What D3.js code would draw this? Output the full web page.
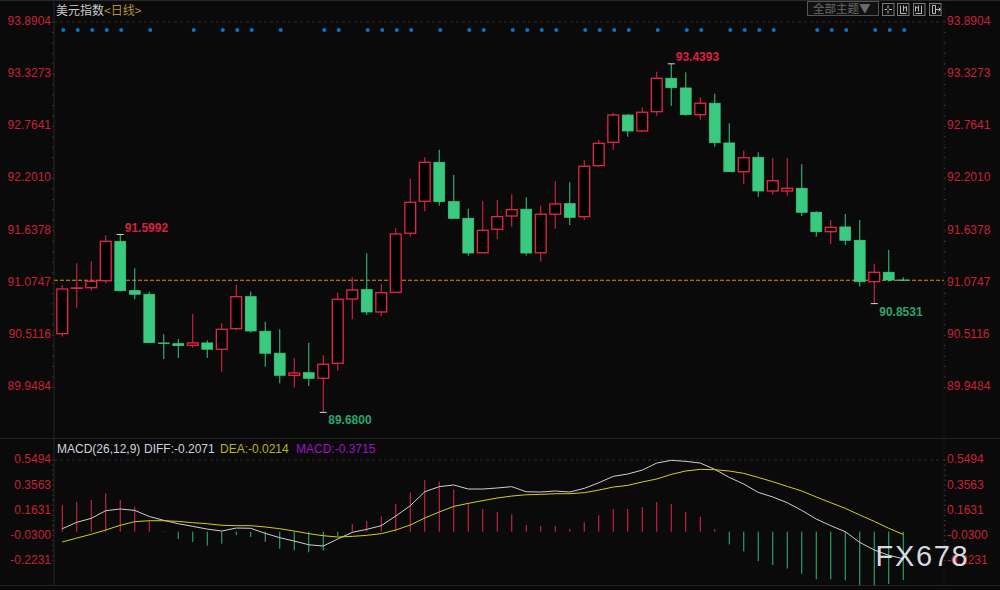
<!DOCTYPE html>
<html>
<head>
<meta charset="utf-8">
<title>美元指数</title>
<script src="https://cdn.jsdelivr.net/npm/d3@7"></script>
<style>
    html, body { margin: 0; padding: 0; background: #0a0a0a; overflow: hidden; }
    text { font-family: "Liberation Sans", Arial, sans-serif; }
    .cjk { font-family: "Noto Sans CJK SC", sans-serif; }
</style>
</head>
<body>
<div id="chart"></div>
<script>
"use strict"

// daily candles
let opens = [90.529,91.019,91.025,91.100,91.525,90.993,90.954,90.429,90.421,90.404,90.429,90.361,90.583,90.928,90.555,90.318,90.080,90.108,90.048,90.210,
    90.903,91.004,90.763,90.975,91.612,91.957,92.377,91.953,91.773,91.402,91.655,91.798,91.871,91.402,91.817,91.931,91.791,92.341,92.593,92.887,
    92.715,92.923,93.283,93.179,92.891,93.014,92.586,92.276,92.431,92.068,92.068,92.097,91.838,91.629,91.680,91.536,91.090,91.191,91.108];
let closes = [91.011,91.022,91.094,91.525,90.993,90.954,90.432,90.422,90.400,90.429,90.361,90.576,90.928,90.558,90.318,90.080,90.105,90.048,90.199,90.900,
    91.000,90.763,90.971,91.604,91.946,92.377,91.953,91.773,91.399,91.644,91.791,91.866,91.399,91.817,91.928,91.784,92.334,92.582,92.887,92.715,
    92.917,93.283,93.182,92.891,93.014,92.589,92.276,92.427,92.068,92.179,92.097,91.838,91.629,91.676,91.536,91.090,91.191,91.108,91.105];
let highs = [91.054,91.288,91.310,91.590,91.5992,91.234,90.982,90.523,90.472,90.741,90.458,90.641,91.054,90.982,90.658,90.576,90.264,90.429,90.296,90.971,
    91.137,91.396,91.065,91.669,92.201,92.431,92.513,92.240,91.877,91.960,91.971,92.032,92.000,91.909,92.173,92.162,92.399,92.618,92.909,92.898,
    92.970,93.354,93.4393,93.348,93.078,93.117,92.798,92.503,92.485,92.421,92.421,92.356,91.849,91.755,91.820,91.755,91.284,91.432,91.137];
let lows = [90.497,90.809,90.993,91.068,90.984,90.900,90.429,90.256,90.267,90.378,90.267,90.119,90.566,90.540,90.173,89.994,89.947,89.965,89.6800,90.130,
    90.684,90.731,90.720,90.965,91.575,91.849,91.909,91.766,91.370,91.399,91.547,91.683,91.370,91.305,91.661,91.701,91.755,92.330,92.510,92.653,
    92.704,92.880,92.985,92.880,92.837,92.546,92.273,92.140,92.006,92.028,92.017,91.798,91.575,91.496,91.486,91.036,90.8531,91.090,91.100];

let priceTicks = [93.8904,93.3273,92.7641,92.2010,91.6378,91.0747,90.5116,89.9484];
let lastPrice = 91.105;

// candles that carry a blue marker along the top
let signalDays = [0,1,2,3,4,6,9,11,12,13,15,18,19,21,22,23,24,26,28,29,31,32,33,34,36,37,38,39,41,43,44,46,47,48,49,52,53,54,56,57,58];

// extreme labels: candle index, price, which end of the candle
let extremes = [
    {day: 4, value: 91.5992, kind: "high"},
    {day: 18, value: 89.6800, kind: "low"},
    {day: 42, value: 93.4393, kind: "high"},
    {day: 56, value: 90.8531, kind: "low"}
];

let macdBars = [0.204,0.227,0.243,0.294,0.243,0.192,0.082,0.005,-0.056,-0.079,-0.107,-0.092,-0.026,-0.041,-0.079,-0.130,-0.143,-0.158,-0.143,-0.033,
    0.059,0.082,0.117,0.212,0.301,0.396,0.383,0.324,0.220,0.174,0.151,0.133,0.051,0.043,0.043,0.020,0.072,0.125,0.174,0.174,
    0.189,0.227,0.212,0.151,0.115,0.020,-0.097,-0.151,-0.225,-0.255,-0.283,-0.322,-0.365,-0.365,-0.373,-0.411,-0.411,-0.401,-0.3715];
let diffLine = [0.023,0.072,0.102,0.161,0.174,0.163,0.117,0.087,0.061,0.041,0.020,0.005,0.028,0.026,-0.013,-0.046,-0.072,-0.100,-0.110,-0.056,
    -0.005,0.018,0.046,0.120,0.199,0.306,0.345,0.358,0.327,0.327,0.335,0.345,0.306,0.304,0.312,0.304,0.332,0.375,0.424,0.442,
    0.472,0.526,0.547,0.539,0.526,0.478,0.416,0.365,0.301,0.266,0.222,0.163,0.097,0.046,0.000,-0.082,-0.140,-0.181,-0.2071];
let deaLine = [-0.079,-0.049,-0.020,0.013,0.049,0.077,0.084,0.084,0.079,0.069,0.061,0.049,0.046,0.046,0.036,0.023,0.005,-0.015,-0.031,-0.041,
    -0.036,-0.028,-0.015,0.013,0.051,0.105,0.151,0.194,0.217,0.238,0.258,0.273,0.283,0.286,0.291,0.291,0.299,0.319,0.342,0.355,
    0.381,0.404,0.439,0.465,0.478,0.475,0.465,0.447,0.416,0.383,0.347,0.312,0.266,0.222,0.179,0.128,0.079,0.026,-0.0214];
let macdTicks = [0.5494,0.3563,0.1631,-0.0300,-0.2231];

let redColor = "#e8264a";
let greenColor = "#39c97f";
let labelRed = "#c92038";

let width = 1000, height = 590;
let plotLeft = 54, plotRight = 944;

let svg = d3.select("#chart").append("svg")
    .attr("width", width)
    .attr("height", height)
    .style("display", "block")
    .style("background", "#0a0a0a");

let x = d3.scaleBand()
    .domain(d3.range(opens.length))
    .range([55, 55 + 14.5 * opens.length])
    .paddingInner(0.17)
    .paddingOuter(0.085);

function center(i){
    return x(i) + x.bandwidth() / 2;
}

let y = d3.scaleLinear()
    .domain([priceTicks[0], priceTicks[priceTicks.length - 1]])
    .range([22, 387.5]);

let yMacd = d3.scaleLinear()
    .domain([macdTicks[0], macdTicks[macdTicks.length - 1]])
    .range([460, 560.8]);

function drawFrame(){
    let frame = svg.append("g");
    frame.append("line").attr("x1", 0).attr("x2", width).attr("y1", 0.5).attr("y2", 0.5).attr("stroke", "#2a2a2a");
    frame.append("line").attr("x1", plotLeft).attr("x2", plotLeft).attr("y1", 0).attr("y2", 585).attr("stroke", "#262626");
    frame.append("line").attr("x1", plotRight).attr("x2", plotRight).attr("y1", 0).attr("y2", 585)
        .attr("stroke", "#2b2b2b").attr("stroke-dasharray", "1,3");
    frame.append("line").attr("x1", 0).attr("x2", width).attr("y1", 438.5).attr("y2", 438.5).attr("stroke", "#222");
    frame.append("line").attr("x1", 0).attr("x2", width).attr("y1", 585.5).attr("y2", 585.5).attr("stroke", "#222");
    // dotted top lines of both panels
    frame.append("line").attr("x1", plotLeft).attr("x2", plotRight).attr("y1", y(priceTicks[0])).attr("y2", y(priceTicks[0]))
        .attr("stroke", "#2b2b2b").attr("stroke-dasharray", "3,3");
    frame.append("line").attr("x1", plotLeft).attr("x2", plotRight).attr("y1", yMacd(macdTicks[0])).attr("y2", yMacd(macdTicks[0]))
        .attr("stroke", "#2b2b2b").attr("stroke-dasharray", "3,3");
}

function drawAxis(scale, ticks, xPos, dy, side){
    let maker = side == "left" ? d3.axisLeft(scale) : d3.axisRight(scale);
    let axis = maker
        .tickValues(ticks)
        .tickSize(0)
        .tickPadding(3)
        .tickFormat(function(d){ return d.toFixed(4); });
    let g = svg.append("g")
        .attr("transform", "translate(" + xPos + "," + dy + ")")
        .call(axis);
    g.select(".domain").remove();
    g.selectAll("text")
        .style("font-family", "'Liberation Sans', Arial, sans-serif")
        .style("font-size", "12px")
        .attr("fill", labelRed);

    // small ticks, five per interval
    let step = (ticks[0] - ticks[1]) / 5;
    let minor = d3.range(0, (ticks.length - 1) * 5 + 1).map(function(k){ return ticks[0] - k * step; });
    svg.append("g").selectAll("line")
        .data(minor)
        .enter().append("line")
        .attr("x1", side == "left" ? xPos - 2 : xPos)
        .attr("x2", side == "left" ? xPos : xPos + 2)
        .attr("y1", function(d){ return scale(d); })
        .attr("y2", function(d){ return scale(d); })
        .attr("stroke", "#333");
}

function drawCandles(){
    let days = d3.range(opens.length);
    let g = svg.append("g");

    // last price line sits under the candles
    g.append("line")
        .attr("x1", plotLeft)
        .attr("x2", plotRight)
        .attr("y1", y(lastPrice))
        .attr("y2", y(lastPrice))
        .attr("stroke", "#e8881c")
        .attr("stroke-dasharray", "4,2");

    let candle = g.selectAll("g.candle")
        .data(days)
        .enter().append("g")
        .attr("class", "candle");

    candle.append("line")
        .attr("x1", center)
        .attr("x2", center)
        .attr("y1", function(i){ return y(highs[i]); })
        .attr("y2", function(i){ return y(lows[i]); })
        .attr("stroke", function(i){ return closes[i] >= opens[i] ? redColor : greenColor; })
        .attr("stroke-width", 1);

    candle.append("rect")
        .attr("x", function(i){ return x(i) + 0.6; })
        .attr("width", x.bandwidth() - 1.2)
        .attr("y", function(i){ return y(Math.max(opens[i], closes[i])); })
        .attr("height", function(i){ return Math.max(0.4, Math.abs(y(opens[i]) - y(closes[i]))); })
        .attr("fill", function(i){ return closes[i] >= opens[i] ? "#000" : greenColor; })
        .attr("stroke", function(i){ return closes[i] >= opens[i] ? redColor : greenColor; })
        .attr("stroke-width", function(i){ return closes[i] >= opens[i] ? 1.3 : 0.8; });
}

function drawSignals(){
    svg.append("g").selectAll("circle")
        .data(signalDays)
        .enter().append("circle")
        .attr("cx", function(d){ return center(d) + 1; })
        .attr("cy", 30)
        .attr("r", 2)
        .attr("fill", "#0b74c9");
}

function drawExtremes(){
    let g = svg.append("g");
    extremes.forEach(function(e){
        let up = e.kind == "high";
        g.append("line")
            .attr("x1", center(e.day) - 3.5)
            .attr("x2", center(e.day) + 3.5)
            .attr("y1", y(e.value))
            .attr("y2", y(e.value))
            .attr("stroke", "#d8d8d8");
        g.append("text")
            .attr("x", center(e.day) + (up ? 4.5 : 5))
            .attr("y", y(e.value) + (up ? -2.5 : 12))
            .attr("fill", up ? "#d9213f" : "#2aa56c")
            .style("font-size", "12px")
            .style("font-weight", "bold")
            .text(e.value.toFixed(4));
    });
}

function drawMacd(){
    let days = d3.range(macdBars.length);
    let g = svg.append("g");

    g.selectAll("line.bar")
        .data(days)
        .enter().append("line")
        .attr("class", "bar")
        .attr("x1", center)
        .attr("x2", center)
        .attr("y1", yMacd(0))
        .attr("y2", function(i){ return yMacd(macdBars[i]); })
        .attr("stroke", function(i){ return macdBars[i] >= 0 ? redColor : "#2fbb76"; })
        .attr("stroke-width", 1);

    let line = d3.line()
        .x(function(d, i){ return center(i); })
        .y(function(d){ return yMacd(d); });

    g.append("path").attr("d", line(diffLine)).attr("fill", "none").attr("stroke", "#cfcfcf").attr("stroke-width", 1);
    g.append("path").attr("d", line(deaLine)).attr("fill", "none").attr("stroke", "#cfcf1c").attr("stroke-width", 1);

    let legend = [
        {text: "MACD(26,12,9)", x: 57, color: "#c9d3de"},
        {text: "DIFF:" + diffLine[diffLine.length - 1].toFixed(4), x: 144, color: "#c9d3de"},
        {text: "DEA:" + deaLine[deaLine.length - 1].toFixed(4), x: 220, color: "#b5b51a"},
        {text: "MACD:" + macdBars[macdBars.length - 1].toFixed(4), x: 296, color: "#a012c4"}
    ];
    g.selectAll("text.legend")
        .data(legend)
        .enter().append("text")
        .attr("class", "legend")
        .attr("x", function(d){ return d.x; })
        .attr("y", 453)
        .attr("fill", function(d){ return d.color; })
        .style("font-size", "12px")
        .text(function(d){ return d.text; });
}

function drawToolbar(){
    let title = svg.append("text")
        .attr("class", "cjk")
        .attr("x", 56)
        .attr("y", 14.5)
        .style("font-size", "12px");
    title.append("tspan").attr("fill", "#c8c8c8").text("美元指数");
    title.append("tspan").attr("fill", "#b8923c").text("<日线>");

    let bar = svg.append("g");
    bar.append("rect").attr("x", 807.5).attr("y", 1.5).attr("width", 71).attr("height", 14)
        .attr("fill", "#111").attr("stroke", "#555");
    bar.append("text").attr("class", "cjk").attr("x", 813).attr("y", 13)
        .attr("fill", "#6a6a6a").style("font-size", "11.5px").text("全部主题▼");

    let buttons = [
        {x: 882.5, d: "M5.5 2V5M5.5 7V10M2 6H4.5M6.5 6H9.5"},
        {x: 897.5, d: "M3 2V10H9M6 2V8M6 5L9 3V8"},
        {x: 913.5, d: "M8 2V10H2M5 2V8M5 5L2 3V8"},
        {x: 929.5, d: "M3 2H6V10H3ZM6 6H11M9 4L11 6L9 8"}
    ];
    buttons.forEach(function(b){
        let btn = bar.append("g").attr("transform", "translate(" + b.x + ",3.5)");
        btn.append("rect").attr("width", 11.5).attr("height", 12).attr("fill", "#111").attr("stroke", "#777");
        btn.append("path").attr("d", b.d).attr("fill", "none").attr("stroke", "#bbb");
    });
}

function drawWatermark(){
    svg.append("text")
        .attr("x", 875.5)
        .attr("y", 566)
        .attr("fill", "#e2e8ef")
        .attr("fill-opacity", 0.95)
        .style("font-size", "29px")
        .style("letter-spacing", "1.7px")
        .text("FX678");
}

drawFrame();
drawAxis(y, priceTicks, plotLeft, -1.5, "left");
drawAxis(y, priceTicks, plotRight, -1.5, "right");
drawAxis(yMacd, macdTicks, plotLeft, -1, "left");
drawAxis(yMacd, macdTicks, plotRight, -1, "right");
drawSignals();
drawCandles();
drawExtremes();
drawMacd();
drawToolbar();
drawWatermark();
</script>
</body>
</html>
